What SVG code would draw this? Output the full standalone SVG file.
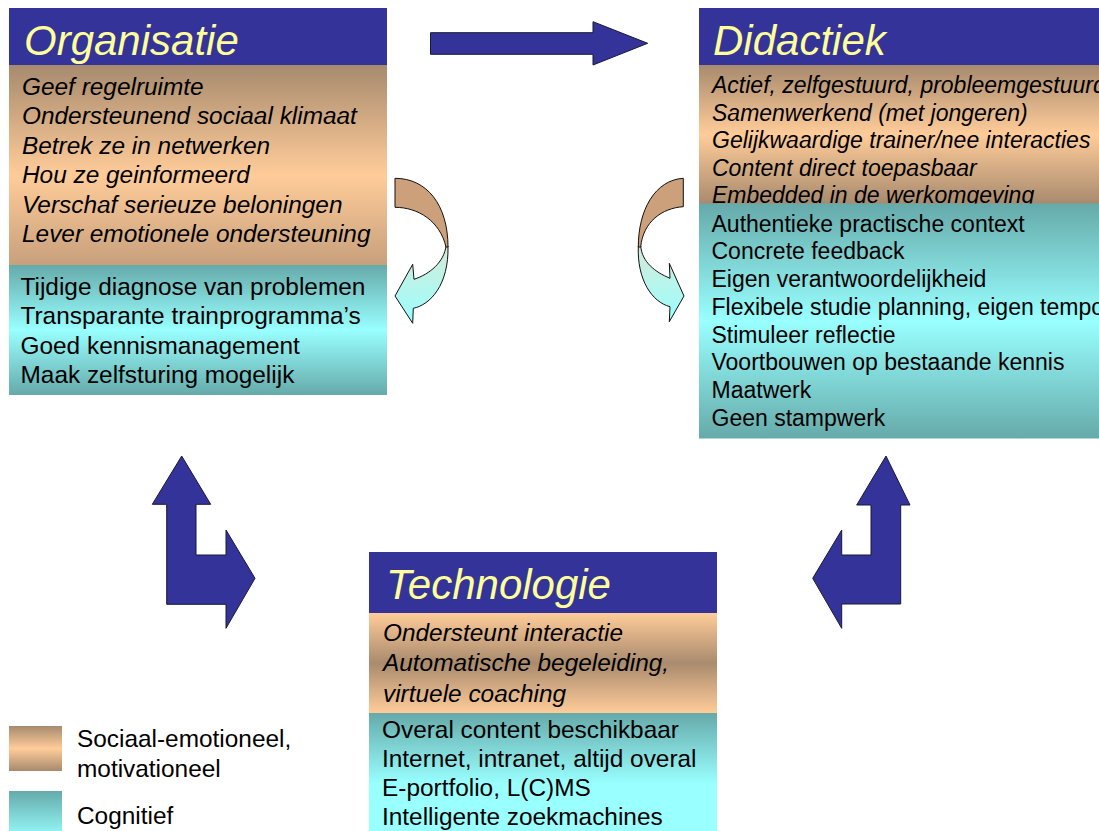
<svg xmlns="http://www.w3.org/2000/svg" width="1099" height="831" viewBox="0 0 1099 831">
  <defs>
    <!-- tan fills: dark at edges, light peach in the middle -->
    <linearGradient id="tanOrg" x1="0" y1="0" x2="0" y2="1">
      <stop offset="0" stop-color="#A78A6E"/>
      <stop offset="0.55" stop-color="#FFCC99"/>
      <stop offset="1" stop-color="#C7A07C"/>
    </linearGradient>
    <linearGradient id="tanSym" x1="0" y1="0" x2="0" y2="1">
      <stop offset="0" stop-color="#A78A6E"/>
      <stop offset="0.5" stop-color="#FFCC99"/>
      <stop offset="1" stop-color="#A78A6E"/>
    </linearGradient>
    <linearGradient id="tanInv" x1="0" y1="0" x2="0" y2="1">
      <stop offset="0" stop-color="#FFCC99"/>
      <stop offset="0.5" stop-color="#A98B6E"/>
      <stop offset="1" stop-color="#FFCC99"/>
    </linearGradient>
    <!-- cyan fills: teal at edges, pale cyan in the middle -->
    <linearGradient id="cyanSym" x1="0" y1="0" x2="0" y2="1">
      <stop offset="0" stop-color="#66AAAA"/>
      <stop offset="0.5" stop-color="#99FFFF"/>
      <stop offset="1" stop-color="#66AAAA"/>
    </linearGradient>
    <linearGradient id="cyanTop" x1="0" y1="0" x2="0" y2="1">
      <stop offset="0" stop-color="#66AAAA"/>
      <stop offset="0.6" stop-color="#99FFFF"/>
      <stop offset="1" stop-color="#99FFFF"/>
    </linearGradient>
    <linearGradient id="curveCyan" x1="0" y1="0" x2="0" y2="1">
      <stop offset="0" stop-color="#D6EAD8"/>
      <stop offset="1" stop-color="#99FFFF"/>
    </linearGradient>
    <style>
      .title { fill: #333399; }
      .ttext { font-family: "Liberation Sans", Arial, sans-serif; font-style: italic; font-size: 42px; fill: #FFFF99; }
      .it { font-family: "Liberation Sans", Arial, sans-serif; font-style: italic; font-size: 24.4px; fill: #000; }
      .rg { font-family: "Liberation Sans", Arial, sans-serif; font-size: 24.4px; fill: #000; }
      .itd { font-family: "Liberation Sans", Arial, sans-serif; font-style: italic; font-size: 23px; fill: #000; }
      .rgd { font-family: "Liberation Sans", Arial, sans-serif; font-size: 23px; fill: #000; }
      .block { fill: #333399; stroke: #1a1a33; stroke-width: 1; stroke-linejoin: miter; }
      .curveTan { fill: #CBA07A; stroke: #111; stroke-width: 1; }
      .curveCyan { fill: url(#curveCyan); stroke: #111; stroke-width: 1; }
    </style>
  </defs>

  <rect width="1099" height="831" fill="#FFFFFF"/>

  <!-- Organisatie -->
  <g id="node-organisatie">
    <rect class="title" x="9" y="8" width="378" height="57"/>
    <text class="ttext" x="24" y="55">Organisatie</text>
    <rect x="9" y="65" width="378" height="200" fill="url(#tanOrg)"/>
    <g class="it">
      <text x="22" y="94.5">Geef regelruimte</text>
      <text x="22" y="124">Ondersteunend sociaal klimaat</text>
      <text x="22" y="153.5">Betrek ze in netwerken</text>
      <text x="22" y="183">Hou ze geinformeerd</text>
      <text x="22" y="212.5">Verschaf serieuze beloningen</text>
      <text x="22" y="242">Lever emotionele ondersteuning</text>
    </g>
    <rect x="9" y="265" width="378" height="130" fill="url(#cyanSym)"/>
    <g class="rg">
      <text x="20.5" y="295">Tijdige diagnose van problemen</text>
      <text x="20.5" y="324.3">Transparante trainprogramma’s</text>
      <text x="20.5" y="353.6">Goed kennismanagement</text>
      <text x="20.5" y="383">Maak zelfsturing mogelijk</text>
    </g>
  </g>

  <!-- Didactiek -->
  <g id="node-didactiek">
    <rect class="title" x="699" y="8" width="400" height="57"/>
    <text class="ttext" x="713" y="55">Didactiek</text>
    <rect x="699" y="65" width="400" height="139" fill="url(#tanSym)"/>
    <g class="itd">
      <text x="712" y="93">Actief, zelfgestuurd, probleemgestuurd</text>
      <text x="712" y="120.6">Samenwerkend (met jongeren)</text>
      <text x="712" y="148.2">Gelijkwaardige trainer/nee interacties</text>
      <text x="712" y="175.8">Content direct toepasbaar</text>
      <text x="712" y="203.4">Embedded in de werkomgeving</text>
    </g>
    <rect x="699" y="203.5" width="400" height="235" fill="url(#cyanSym)"/>
    <g class="rgd">
      <text x="711.5" y="231.7">Authentieke practische context</text>
      <text x="711.5" y="259.4">Concrete feedback</text>
      <text x="711.5" y="287.2">Eigen verantwoordelijkheid</text>
      <text x="711.5" y="315">Flexibele studie planning, eigen tempo</text>
      <text x="711.5" y="342.7">Stimuleer reflectie</text>
      <text x="711.5" y="370.4">Voortbouwen op bestaande kennis</text>
      <text x="711.5" y="398.2">Maatwerk</text>
      <text x="711.5" y="426">Geen stampwerk</text>
    </g>
  </g>

  <!-- Technologie -->
  <g id="node-technologie">
    <rect class="title" x="369" y="552" width="348" height="61"/>
    <text class="ttext" x="386" y="599">Technologie</text>
    <rect x="369" y="613" width="348" height="100" fill="url(#tanInv)"/>
    <g class="it">
      <text x="383" y="641">Ondersteunt interactie</text>
      <text x="383" y="671.3">Automatische begeleiding,</text>
      <text x="383" y="701.6">virtuele coaching</text>
    </g>
    <rect x="369" y="713" width="348" height="118" fill="url(#cyanTop)"/>
    <g class="rg">
      <text x="382" y="737.7">Overal content beschikbaar</text>
      <text x="382" y="766.8">Internet, intranet, altijd overal</text>
      <text x="382" y="795.9">E-portfolio, L(C)MS</text>
      <text x="382" y="825">Intelligente zoekmachines</text>
    </g>
  </g>

  <!-- Legend -->
  <g id="legend">
    <rect x="9" y="726" width="53" height="45" fill="url(#tanSym)"/>
    <text class="rg" x="77" y="746.7">Sociaal-emotioneel,</text>
    <text class="rg" x="77" y="777">motivationeel</text>
    <rect x="9" y="791" width="53" height="80" fill="url(#cyanTop)"/>
    <text class="rg" x="77" y="824">Cognitief</text>
  </g>

  <!-- Connectors -->
  <g id="connectors">
    <!-- straight arrow Organisatie to Didactiek -->
    <path class="block" d="M430.5,32.7 L593,32.7 L593,21.7 L647.7,43.3 L593,65 L593,54.3 L430.5,54.3 Z"/>

    <!-- bent arrow between Organisatie and Technologie -->
    <path class="block" d="M181.7,456 L210.7,504.3 L196,504.3 L196,555 L226,555 L226,530 L255,578.3 L226,628.3 L226,604.3 L166.7,604.3 L166.7,504.3 L152.3,504.3 Z"/>

    <!-- bent arrow between Technologie and Didactiek -->
    <path class="block" d="M886,456 L910,505 L900.7,505 L900.7,604 L841.7,604 L841.7,628.3 L812.7,578.3 L841.7,530 L841.7,555 L871,555 L871,505 L856.7,505 Z"/>

    <!-- curved arrow beside Organisatie -->
    <g id="curve-left">
      <path class="curveCyan" d="M448,246 C449,285 430,305 413.3,308.3 L412.7,323.3 L395,296 L412.7,264.3 L414,279.3 C430,274 444,262 446,246 Z"/>
      <path class="curveTan" d="M395,178.3 C427,178.3 448,205 448,247 L446,247 C440,221 418,207.3 395,207.3 Z"/>
    </g>

    <!-- curved arrow beside Didactiek -->
    <g id="curve-right">
      <path class="curveCyan" d="M638.3,246 C637,280 652,302 670,306.7 L669.3,321.7 L684,296 L669.3,263.3 L670,278.3 C655,272 642,262 640.7,246 Z"/>
      <path class="curveTan" d="M683.3,178.3 C655,180 638.3,210 638.3,247 L640.7,247 C643,222 662,208 683.3,206.7 Z"/>
    </g>
  </g>
</svg>
